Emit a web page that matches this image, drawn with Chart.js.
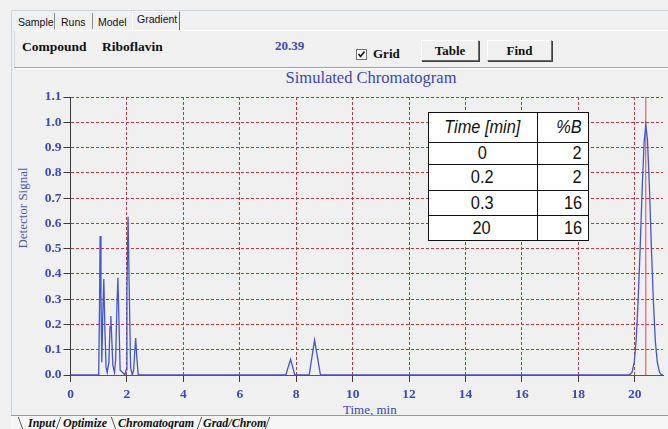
<!DOCTYPE html>
<html><head><meta charset="utf-8">
<script src="https://cdn.jsdelivr.net/npm/chart.js"></script>
<style>
html,body{margin:0;padding:0;}
body{width:668px;height:429px;overflow:hidden;background:#f0f0f0;position:relative;font-family:"Liberation Serif","Times New Roman",serif;}
.abs{position:absolute;white-space:nowrap;}
#c{position:absolute;left:0;top:0;z-index:1;}
.tabtxt{font-family:"Liberation Sans",Arial,sans-serif;font-size:10.5px;color:#111;line-height:12px;}
.sep{position:absolute;width:1px;background:#8a8a8a;}
.bold13{font-weight:bold;font-size:13px;line-height:16px;color:#111;}
.btn{position:absolute;box-sizing:border-box;border:1px solid;border-color:#ffffff #6a6a6a #6a6a6a #ffffff;box-shadow:1px 1px 0 #404040;background:#f0f0f0;text-align:center;font-weight:bold;font-size:13px;line-height:19px;color:#111;}
#grad{position:absolute;z-index:3;left:428px;top:112px;border-collapse:collapse;background:#fff;font-family:"Liberation Sans",Arial,sans-serif;font-size:19px;color:#111;}
#grad td{border:1.5px solid #111;padding:0 6px 0 4px;line-height:20px;}
#grad td span{display:inline-block;transform:scaleX(0.86);}
#grad td.c1{width:98px;text-align:center;}
#grad td.c1 span{transform-origin:50% 50%;}
#grad td.c2{width:40px;text-align:right;}
#grad td.c2 span{transform-origin:100% 50%;}
.btab{font-weight:bold;font-style:italic;font-size:12px;line-height:14px;color:#111;}
.sl{position:absolute;width:1px;height:12px;background:#555;top:417px;}
</style></head><body>
<!-- frame lines -->
<div class="abs" style="left:11px;top:10px;width:657px;height:1px;background:#c6d6e8;"></div>
<div class="abs" style="left:11px;top:10px;width:1px;height:405px;background:#c6d6e8;"></div>
<!-- top tabs -->
<div class="abs tabtxt" style="left:18px;top:16px;">Sample</div>
<div class="sep" style="left:54px;top:13px;height:16px;"></div>
<div class="abs tabtxt" style="left:61px;top:16px;">Runs</div>
<div class="sep" style="left:92px;top:13px;height:16px;"></div>
<div class="abs tabtxt" style="left:98px;top:16px;">Model</div>
<div class="abs" style="left:132px;top:11px;width:48px;height:19px;border-left:1px solid #fff;border-top:1px solid #fff;border-right:1px solid #6a6a6a;box-sizing:border-box;"></div>
<div class="abs tabtxt" style="left:137px;top:13px;">Gradient</div>
<!-- panel -->
<div class="abs" style="left:14px;top:30px;width:660px;height:38px;box-sizing:border-box;border-top:1px solid #ffffff;border-left:1px solid #d8d8d8;border-bottom:1px solid #a0a0a0;"></div>
<div class="abs" style="left:14px;top:68px;width:660px;height:1px;background:#ffffff;"></div>
<div class="abs bold13" style="left:22px;top:39px;font-size:13.5px;">Compound</div>
<div class="abs bold13" style="left:102px;top:39px;font-size:13.5px;">Riboflavin</div>
<div class="abs bold13" style="left:275px;top:38px;color:#3b4cb0;">20.39</div>
<div class="abs" style="left:356px;top:49px;width:11px;height:11px;box-sizing:border-box;border:1px solid #707070;background:#fff;">
<svg width="9" height="9" style="position:absolute;left:0;top:0"><polyline points="1.5,4 3.5,6.5 7.5,1.5" fill="none" stroke="#111" stroke-width="1.6"/></svg></div>
<div class="abs bold13" style="left:373px;top:46px;">Grid</div>
<div class="btn" style="left:421px;top:40px;width:58px;height:21px;">Table</div>
<div class="btn" style="left:487px;top:40px;width:65px;height:21px;">Find</div>
<!-- titles -->
<div class="abs" style="left:0;width:742px;top:68px;text-align:center;font-size:16.5px;line-height:20px;color:#3a48b0;">Simulated Chromatogram</div>
<div class="abs" style="left:22px;top:208px;width:0;height:0;">
  <div style="position:absolute;transform:translate(-50%,-50%) rotate(-90deg);font-size:13px;line-height:15px;color:#4a5ab8;white-space:nowrap;">Detector Signal</div>
</div>
<div class="abs" style="left:343px;top:402px;font-size:13px;line-height:15px;color:#3a48b0;">Time, min</div>
<!-- bottom strip -->
<div class="abs" style="left:11px;top:415px;width:657px;height:14px;background:#f6f6f6;border-top:1px solid #9a9a9a;z-index:2;"></div>
<div class="sl" style="left:20px;transform:skewX(20deg);z-index:3;"></div>
<div class="abs btab" style="left:28px;top:416px;z-index:3;">Input</div>
<div class="sl" style="left:58px;transform:skewX(-20deg);z-index:3;"></div>
<div class="abs btab" style="left:63px;top:416px;z-index:3;">Optimize</div>
<div class="sl" style="left:113px;transform:skewX(20deg);z-index:3;"></div>
<div class="abs btab" style="left:118px;top:416px;z-index:3;">Chromatogram</div>
<div class="sl" style="left:199px;transform:skewX(-20deg);z-index:3;"></div>
<div class="abs btab" style="left:203px;top:416px;z-index:3;">Grad/Chrom</div>
<div class="sl" style="left:267px;transform:skewX(-20deg);z-index:3;"></div>

<canvas id="c" width="668" height="429"></canvas>
<table id="grad"><tbody id="gradBody"></tbody></table>

<script>
// ---- data ----
const times  = [0, 1.00, 1.03, 1.05, 1.08, 1.11, 1.14, 1.18, 1.22, 1.26, 1.30, 1.36, 1.40, 1.43, 1.46, 1.50, 1.56, 1.60, 1.64, 1.68, 1.72, 1.76, 1.93, 1.97, 2.00, 2.04, 2.08, 2.13, 2.19, 2.24, 2.27, 2.31, 2.35, 2.40, 7.63, 7.80, 7.95, 8.46, 8.65, 8.86, 19.80, 19.90, 19.98, 20.05, 20.12, 20.19, 20.26, 20.33, 20.39, 20.45, 20.52, 20.59, 20.66, 20.73, 20.80, 20.88, 20.95, 21.0];
const signal = [0, 0, 0.28, 0.55, 0.32, 0.05, 0.22, 0.38, 0.18, 0.03, 0.01, 0.05, 0.19, 0.233, 0.15, 0.04, 0.01, 0.06, 0.25, 0.385, 0.20, 0.02, 0, 0.02, 0.33, 0.626, 0.35, 0.03, 0, 0.02, 0.08, 0.146, 0.07, 0, 0, 0.062, 0, 0, 0.138, 0, 0, 0.01, 0.05, 0.14, 0.30, 0.50, 0.73, 0.92, 0.99, 0.93, 0.74, 0.50, 0.29, 0.13, 0.05, 0.01, 0, 0];
const markerTime = 20.39;
const markerRange = [0, 1.1];
const xTicks = [0, 2, 4, 6, 8, 10, 12, 14, 16, 18, 20];
const yTicks = [0, 0.1, 0.2, 0.3, 0.4, 0.5, 0.6, 0.7, 0.8, 0.9, 1.0, 1.1];
const gradTime = ['0', '0.2', '0.3', '20'];
const gradB = ['2', '2', '16', '16'];
const gradHeader = ['Time [min]', '%B'];

// ---- gradient table ----
const tb = document.getElementById('gradBody');
const rowH = [30, 23, 26, 26, 25];
const hr = document.createElement('tr');
hr.innerHTML = '<td class="c1" style="font-style:italic;height:'+(rowH[0]-1.5)+'px"><span>'+gradHeader[0]+'</span></td><td class="c2" style="font-style:italic"><span>'+gradHeader[1]+'</span></td>';
tb.appendChild(hr);
gradTime.forEach((t,i)=>{
  const r = document.createElement('tr');
  r.innerHTML = '<td class="c1" style="height:'+(rowH[i+1]-1.5)+'px"><span>'+t+'</span></td><td class="c2"><span>'+gradB[i]+'</span></td>';
  tb.appendChild(r);
});

// ---- chart ----
const blue = '#3b4cb0';
const tickFont = {family: 'Liberation Serif, Times New Roman, serif', size: 13.5, weight: 'bold'};
const gridRed = '#b33c3c';
new Chart(document.getElementById('c'), {
  type: 'scatter',
  data: {
    datasets: [
      {data: times.map((t,i)=>({x:t, y:signal[i]})), showLine:true, borderColor:'#4456c4', borderWidth:1.3, pointRadius:0, tension:0, order:1},
      {data: markerRange.map(v=>({x:markerTime, y:v})), showLine:true, borderColor:'#e8453c', borderWidth:1, pointRadius:0, order:2}
    ]
  },
  options: {
    responsive:false, animation:false, devicePixelRatio:1,
    layout:{padding:{left:0, top:97, right:5, bottom:14}},
    plugins:{legend:{display:false}, tooltip:{enabled:false}, title:{display:false}},
    scales:{
      x:{type:'linear', min:0, max:21,
        afterBuildTicks: s => { s.ticks = xTicks.map(v=>({value:v})); },
        afterFit: s => { s.height = 40; },
        ticks:{color:blue, font:tickFont, padding:4, maxRotation:0, autoSkip:false, callback:v=>String(v)},
        grid:{color: c => (c.tick && c.tick.value===0) ? 'rgba(0,0,0,0)' : gridRed, lineWidth:1, tickColor:'#3a3a3a', tickLength:7},
        border:{display:true, color:'#555', width:1, dash:[3,2]}
      },
      y:{type:'linear', min:0, max:1.1,
        afterBuildTicks: s => { s.ticks = yTicks.map(v=>({value:v})); },
        afterFit: s => { s.width = 70.5; },
        ticks:{color:blue, font:tickFont, padding:2, autoSkip:false, callback:v=>Number(v).toFixed(1)},
        grid:{color: c => (c.tick && c.tick.value===0) ? 'rgba(0,0,0,0)' : gridRed, lineWidth:1, tickColor:'#3a3a3a', tickLength:7},
        border:{display:true, color:'#3a3a3a', width:1, dash:[3,2]}
      }
    }
  }
});
</script>
</body></html>
